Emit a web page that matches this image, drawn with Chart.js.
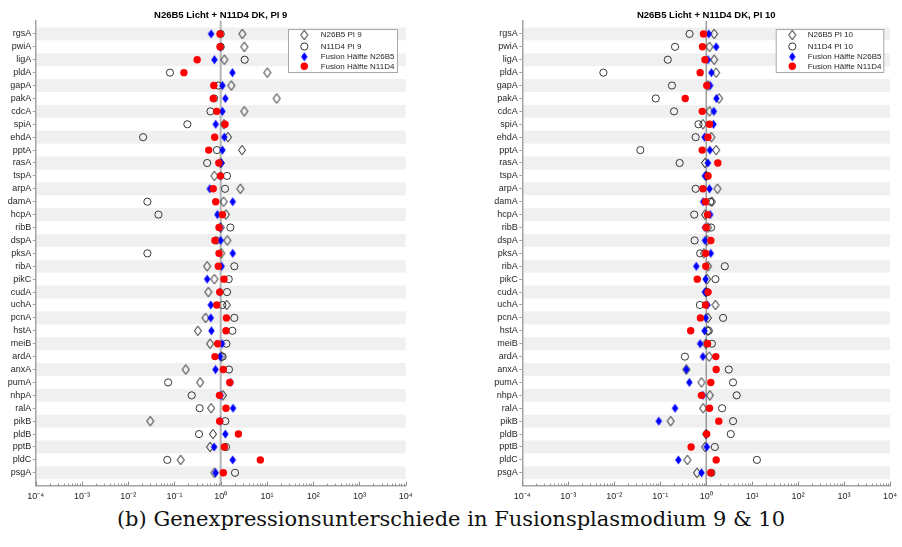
<!DOCTYPE html>
<html>
<head>
<meta charset="utf-8">
<script src="https://cdn.jsdelivr.net/npm/chart.js@4"></script>
<style>
  body { margin: 0; background: #fff; width: 902px; height: 547px; position: relative; overflow: hidden; }
  #left { position: absolute; left: 0; top: 0; width: 450px; height: 505px; }
  #right { position: absolute; left: 450px; top: 0; width: 452px; height: 505px; }
  #caption { position: absolute; left: 0; width: 902px; top: 509px; text-align: center;
             font-family: "DejaVu Serif", serif; font-size: 21px; line-height: 21px; color: #111; }
</style>
</head>
<body>
<div id="left"><canvas id="chart-pi9"></canvas></div>
<div id="right"><canvas id="chart-pi10"></canvas></div>
<div id="caption">(b) Genexpressionsunterschiede in Fusionsplasmodium 9 &amp; 10</div>
<script>
const genes = ["rgsA","pwiA","ligA","pldA","gapA","pakA","cdcA","spiA","ehdA","pptA","rasA","tspA","arpA","damA","hcpA","ribB","dspA","pksA","ribA","pikC","cudA","uchA","pcnA","hstA","meiB","ardA","anxA","pumA","nhpA","ralA","pikB","pldB","pptB","pldC","psgA"];
const exponents = [-4, -3, -2, -1, 0, 1, 2, 3, 4];

// PI 9
const n26b5Pi9 = [2.94,3.25,1.2,10.2,1.7,16.2,3.25,1.18,1.44,2.89,1.0,0.73,2.66,1.16,1.30,1.0,1.39,1.03,0.51,0.73,0.54,1.35,0.47,0.32,0.59,1.05,0.175,0.36,1.12,0.62,0.030,0.68,0.59,0.136,0.73];
const n11d4Pi9 = [1.0,1.0,3.3,0.08,0.89,0.72,0.60,0.19,0.021,0.83,0.51,1.37,1.24,0.026,0.045,1.62,0.8,0.026,1.97,1.49,1.37,1.09,1.97,1.79,1.33,1.1,1.51,0.073,0.236,0.35,1.26,0.34,1.3,0.070,2.04];
const fusN26b5Pi9 = [0.62,1.0,0.73,1.79,1.09,1.26,1.09,0.78,1.2,1.09,1.03,1.0,0.58,1.82,0.85,0.97,1.0,1.82,1.05,0.51,0.97,0.61,0.61,0.63,1.07,0.97,0.77,1.64,1.0,1.85,0.98,1.26,0.72,1.82,0.77];
const fusN11d4Pi9 = [0.97,0.97,0.31,0.16,0.71,0.69,0.82,1.24,0.74,0.55,0.91,0.99,0.69,0.78,1.09,0.92,0.75,0.92,0.89,1.18,0.95,0.82,1.33,1.30,0.86,0.75,1.14,1.57,0.94,1.30,0.95,2.41,1.2,7.2,1.14];

// PI 10
const n26b5Pi10 = [1.49,1.18,1.49,1.65,1.1,1.91,1.18,0.85,1.30,1.65,0.94,1.0,1.76,1.33,0.94,1.1,1.05,0.89,1.1,1.05,1.0,1.59,1.09,1.09,0.98,1.16,0.37,0.79,1.2,0.86,0.169,1.0,0.95,0.39,0.63];
const n11d4Pi10 = [0.435,0.21,0.146,0.0058,0.18,0.080,0.2,0.68,0.59,0.037,0.265,1.05,0.59,1.22,0.55,1.28,0.56,0.74,2.54,1.59,1.05,0.73,2.33,1.14,1.33,0.345,3.1,3.84,4.61,2.22,3.84,3.42,1.54,12.7,1.3];
const fusN26b5Pi10 = [1.14,1.65,1.09,1.30,1.22,1.67,1.47,1.44,0.92,1.2,1.09,0.94,1.18,0.86,1.22,0.94,0.94,1.26,0.61,0.97,0.94,1.07,0.98,0.92,0.74,0.85,0.37,0.43,0.85,0.21,0.093,1.0,1.03,0.248,0.79];
const fusN11d4Pi10 = [0.875,0.83,0.94,0.74,1.03,0.35,0.82,1.18,1.09,0.82,1.79,1.10,0.85,0.97,1.07,1.0,1.26,0.98,0.98,0.64,1.10,0.97,0.75,0.46,1.07,1.62,1.65,1.26,0.79,1.18,1.88,1.02,0.47,1.65,1.26];

const FONT = '"Liberation Sans", Arial, sans-serif';
const AXIS_GRAY = '#a3a3a3';
const TEXT = '#262626';
const SUP = { '-': '\u207B', '0': '\u2070', '1': '\u00B9', '2': '\u00B2', '3': '\u00B3', '4': '\u2074' };

function diamond(w, h, fill, stroke, lw) {
    const c = document.createElement('canvas');
    c.width = w + 3; c.height = h + 3;
    const g = c.getContext('2d');
    const cx = c.width / 2, cy = c.height / 2;
    g.beginPath();
    g.moveTo(cx, cy - h / 2); g.lineTo(cx + w / 2, cy);
    g.lineTo(cx, cy + h / 2); g.lineTo(cx - w / 2, cy);
    g.closePath();
    if (fill) { g.fillStyle = fill; g.fill(); }
    if (stroke) { g.strokeStyle = stroke; g.lineWidth = lw; g.stroke(); }
    return c;
}
const openDiamond = diamond(7, 9.5, null, '#1a1a1a', 1);
const blueDiamond = diamond(6.5, 9, '#0000ff', null, 0);

const points = vals => vals.map((v, i) => ({ x: v, y: i }));

function drawMarker(ctx, ds, x, y) {
    if (ds.pointStyle instanceof HTMLCanvasElement) {
        ctx.drawImage(ds.pointStyle, x - ds.pointStyle.width / 2, y - ds.pointStyle.height / 2);
    } else {
        ctx.beginPath();
        ctx.arc(x, y, ds.pointRadius, 0, Math.PI * 2);
        ctx.fillStyle = ds.backgroundColor; ctx.fill();
        if (ds.borderWidth) { ctx.strokeStyle = ds.borderColor; ctx.lineWidth = ds.borderWidth; ctx.stroke(); }
    }
}

// alternating grey rows
const rowBands = {
    id: 'rowBands',
    beforeDraw(chart) {
        const { ctx, chartArea: a, scales: { y } } = chart;
        ctx.save();
        ctx.fillStyle = '#f0f0f0';
        genes.forEach((g, i) => {
            if (i % 2) return;
            const y0 = y.getPixelForValue(i - 0.5), y1 = y.getPixelForValue(i + 0.5);
            ctx.fillRect(a.left, y0, a.right - a.left, y1 - y0);
        });
        ctx.restore();
    }
};

// reference line at 1 and inward log ticks
const refLine = {
    id: 'refLine',
    beforeDatasetsDraw(chart, args, o) {
        const { ctx, chartArea: a, scales: { x } } = chart;
        ctx.save();
        const px = x.getPixelForValue(1);
        ctx.strokeStyle = o.color; ctx.lineWidth = o.width;
        ctx.beginPath(); ctx.moveTo(px, a.top); ctx.lineTo(px, a.bottom); ctx.stroke();
        ctx.strokeStyle = '#8a8a8a'; ctx.lineWidth = 1;
        exponents.forEach(e => {
            for (let m = 1; m <= 9; m++) {
                if (e === 4 && m > 1) break;
                const tx = Math.round(x.getPixelForValue(m * Number('1e' + e))) + 0.5;
                const len = m === 1 ? 4 : 2;
                ctx.beginPath(); ctx.moveTo(tx, a.bottom); ctx.lineTo(tx, a.bottom - len); ctx.stroke();
            }
        });
        ctx.restore();
    }
};

const boxLegend = {
    id: 'boxLegend',
    afterDraw(chart, args, o) {
        const ctx = chart.ctx;
        ctx.save();
        ctx.fillStyle = '#fff';
        ctx.fillRect(o.x, o.y, o.w, o.h);
        ctx.strokeStyle = '#a8a8a8'; ctx.lineWidth = 1;
        ctx.strokeRect(o.x + 0.5, o.y + 0.5, o.w, o.h);
        chart.data.datasets.forEach((ds, i) => {
            const cy = o.rows[i];
            drawMarker(ctx, ds, o.markerX, cy);
            ctx.fillStyle = TEXT;
            ctx.font = '8px ' + FONT;
            ctx.textAlign = 'left'; ctx.textBaseline = 'middle';
            ctx.fillText(ds.label, o.textX, cy);
        });
        ctx.restore();
    }
};

function makeChart(id, title, labels, series, cfg) {
    return new Chart(document.getElementById(id), {
        type: 'scatter',
        data: {
            datasets: [{
                label: labels[0], data: points(series[0]),
                pointStyle: openDiamond, order: 4
            }, {
                label: labels[1], data: points(series[1]),
                pointStyle: 'circle', pointRadius: 3.6,
                backgroundColor: 'rgba(0,0,0,0)', borderColor: '#222', borderWidth: 0.9, order: 3
            }, {
                label: labels[2], data: points(series[2]),
                pointStyle: blueDiamond, order: 2
            }, {
                label: labels[3], data: points(series[3]),
                pointStyle: 'circle', pointRadius: 3.7,
                backgroundColor: '#ff0000', borderColor: '#ff0000', borderWidth: 0, order: 1
            }]
        },
        options: {
            responsive: true,
            maintainAspectRatio: false,
            animation: false,
            events: [],
            layout: { padding: { left: 0, right: cfg.padRight, top: 0, bottom: 0 } },
            plugins: {
                legend: { display: false },
                tooltip: { enabled: false },
                title: {
                    display: true, text: title, fullSize: false, color: '#000',
                    font: { family: FONT, size: 9.5, weight: 'bold' },
                    padding: { top: 9.6, bottom: 0 }
                },
                refLine: { color: cfg.refColor, width: cfg.refWidth },
                boxLegend: cfg.legend
            },
            scales: {
                x: {
                    type: 'logarithmic', min: 1e-4, max: 1e4,
                    afterBuildTicks: s => { s.ticks = exponents.map(e => ({ value: Number('1e' + e), major: true })); },
                    afterFit: s => { s.height = 505 - 485.7; },
                    grid: { display: false, drawTicks: false },
                    border: { display: true, color: AXIS_GRAY, width: 1.5 },
                    ticks: {
                        autoSkip: false, maxRotation: 0, padding: 5, color: TEXT,
                        font: { family: FONT, size: 9 },
                        callback: v => '10' + String(Math.round(Math.log10(v))).split('').map(c => SUP[c]).join('')
                    }
                },
                y: {
                    type: 'linear', reverse: true, min: -1, max: 35,
                    afterBuildTicks: s => { s.ticks = genes.map((g, i) => ({ value: i })); },
                    afterFit: s => { s.width = cfg.yWidth; },
                    grid: { display: true, drawOnChartArea: false, drawTicks: true, tickLength: 3, tickColor: AXIS_GRAY, tickWidth: 1 },
                    border: { display: true, color: AXIS_GRAY, width: 1.5 },
                    ticks: {
                        autoSkip: false, padding: 1.5, color: TEXT,
                        font: { family: FONT, size: 9 },
                        callback: v => genes[v]
                    }
                }
            }
        },
        plugins: [rowBands, refLine, boxLegend]
    });
}

makeChart('chart-pi9', 'N26B5 Licht + N11D4 DK, PI 9',
    ['N26B5 PI 9', 'N11D4 PI 9', 'Fusion Hälfte N26B5', 'Fusion Hälfte N11D4'],
    [n26b5Pi9, n11d4Pi9, fusN26b5Pi9, fusN11d4Pi9],
    { yWidth: 35.7, padRight: 44.3, refColor: '#b4b4b4', refWidth: 2,
      legend: { x: 288, y: 29, w: 109, h: 43, markerX: 304.3, textX: 320.7, rows: [35, 46.5, 56.7, 66.3] } });

makeChart('chart-pi10', 'N26B5 Licht + N11D4 DK, PI 10',
    ['N26B5 PI 10', 'N11D4 PI 10', 'Fusion Hälfte N26B5', 'Fusion Hälfte N11D4'],
    [n26b5Pi10, n11d4Pi10, fusN26b5Pi10, fusN11d4Pi10],
    { yWidth: 72.3, padRight: 10.3, refColor: '#6e6e6e', refWidth: 1,
      legend: { x: 325.7, y: 29, w: 107.6, h: 43, markerX: 342.3, textX: 357.7, rows: [35, 46.5, 56.7, 66.3] } });
</script>
</body>
</html>
